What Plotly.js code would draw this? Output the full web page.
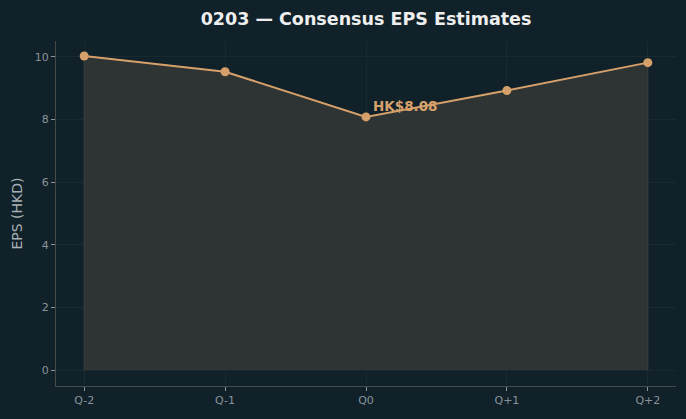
<!DOCTYPE html>
<html>
<head>
<meta charset="utf-8">
<script src="https://cdn.plot.ly/plotly-3.0.1.min.js"></script>
<style>
html,body{margin:0;padding:0;background:#10212a;}
#chart{width:686px;height:419px;}
</style>
</head>
<body>
<div id="chart"></div>
<script>
const categories = ["Q-2", "Q-1", "Q0", "Q+1", "Q+2"];
const epsValues = [10.02, 9.52, 8.08, 8.92, 9.81];
const yTicks = [0, 2, 4, 6, 8, 10];
const annotationIndex = 2;
const annotationText = "HK$8.08";

const idx = categories.map((_, i) => i);
const bg = "#10212a";
const accent = "#d6a06a";

const polyX = [idx[0]].concat(idx, [idx[idx.length - 1]]);
const polyY = [0].concat(epsValues, [0]);

const traces = [
  {
    x: polyX, y: polyY, type: "scatter", mode: "lines",
    fill: "toself", fillcolor: "#2e3433",
    line: {color: "#3c413c", width: 1},
    hoverinfo: "skip", showlegend: false
  },
  {
    x: idx, y: epsValues, type: "scatter", mode: "lines+markers",
    line: {color: accent, width: 2},
    marker: {color: accent, size: 9},
    showlegend: false
  }
];

const layout = {
  width: 686, height: 419,
  paper_bgcolor: bg, plot_bgcolor: bg,
  margin: {l: 56, r: 10, t: 41, b: 33},
  font: {family: "DejaVu Sans", color: "#8a9399"},
  title: {
    text: "<b>0203 — Consensus EPS Estimates</b>",
    font: {family: "DejaVu Sans", size: 17.5, color: "#eeeeee"},
    x: 366 / 686, xanchor: "center", y: 0.956, yanchor: "middle"
  },
  xaxis: {
    range: [-0.2, 4.2],
    tickvals: idx, ticktext: categories,
    ticks: "outside", ticklen: 4, tickcolor: "#8a9399", tickwidth: 1,
    tickfont: {size: 11, color: "#8a9399"},
    showgrid: true, gridcolor: "rgba(60,75,80,0.18)", gridwidth: 1,
    zeroline: false,
    showline: true, linecolor: "#454a48", linewidth: 1,
    fixedrange: true
  },
  yaxis: {
    range: [-0.5, 10.5],
    tickvals: yTicks,
    ticks: "outside", ticklen: 4, tickcolor: "#8a9399", tickwidth: 1,
    tickfont: {size: 11, color: "#8a9399"},
    showgrid: true, gridcolor: "rgba(60,75,80,0.18)", gridwidth: 1,
    zeroline: false,
    showline: true, linecolor: "#454a48", linewidth: 1,
    title: {text: "EPS (HKD)", font: {size: 14, color: "#a9b0b4"}, standoff: 8},
    fixedrange: true
  },
  annotations: [{
    x: idx[annotationIndex], y: epsValues[annotationIndex],
    xref: "x", yref: "y",
    text: "<b>" + annotationText + "</b>",
    showarrow: false,
    xanchor: "left", yanchor: "bottom",
    xshift: 5, yshift: 1,
    font: {family: "DejaVu Sans", size: 13.5, color: accent}
  }]
};

Plotly.newPlot("chart", traces, layout, {displayModeBar: false, staticPlot: true});
</script>
</body>
</html>
